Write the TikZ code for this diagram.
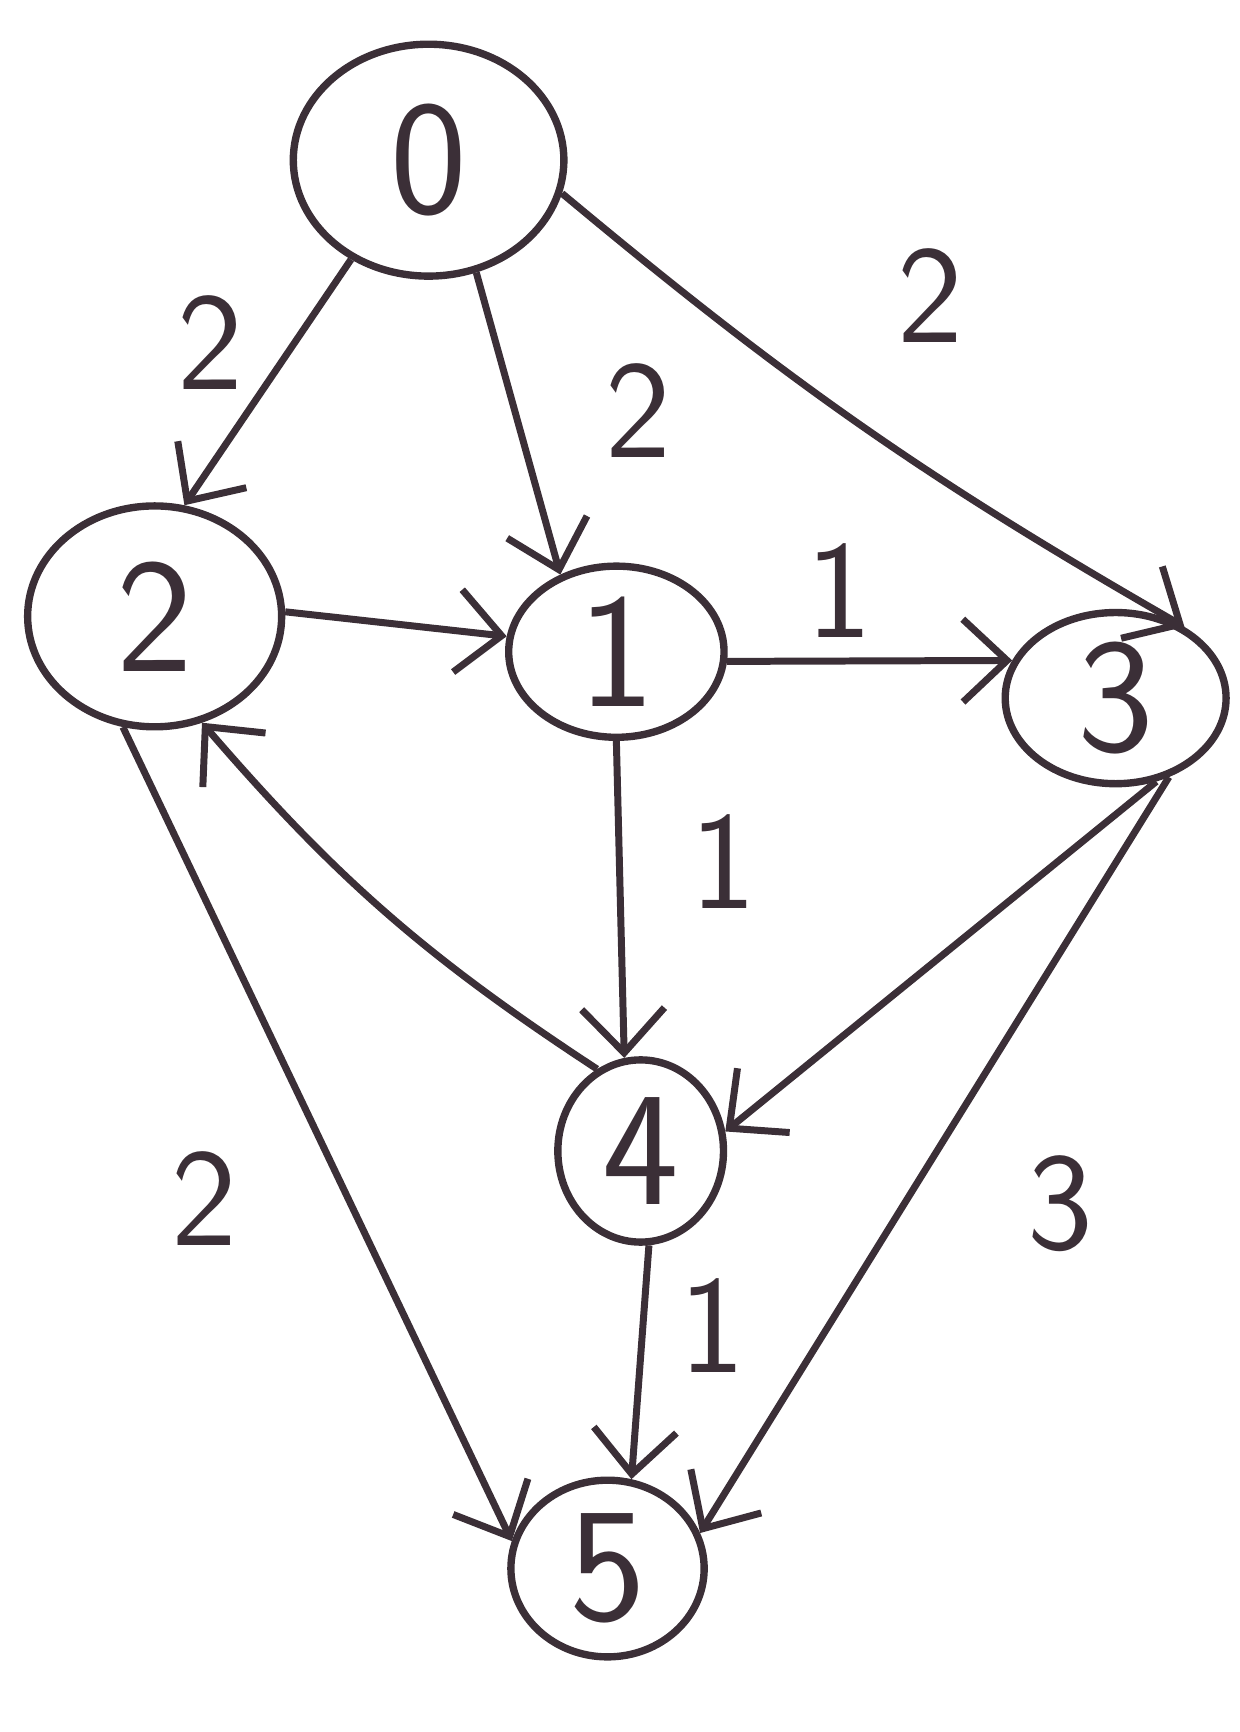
\documentclass[tikz,border=0pt]{standalone}
\usepackage{tikz}
\usetikzlibrary{positioning,shapes.geometric,arrows.meta}
\definecolor{ink}{HTML}{3B2F37}
\tikzset{
  >={Straight Barb[length=8mm,width=15mm]},
  % --- nodes
  vert/.style = {ellipse, draw=ink, line width=3.8pt, inner sep=0pt, text=ink,
                 font=\fontsize{84}{84}\selectfont\sffamily},
  wt/.style   = {text=ink, font=\fontsize{72}{72}\selectfont\sffamily},
  % --- edges
  e/.style    = {->, draw=ink, line width=3.6pt},
}
\begin{document}
\begin{tikzpicture}[x=0.02cm,y=-0.02cm]
  \useasboundingbox (0,0) rectangle (1122,1568);
  \node[vert, minimum width=4.9cm, minimum height=4.2cm] (n0) at (388,145) {0};
  \node[vert, minimum width=4.6cm, minimum height=4.0cm] (n2) at (140,558) {2};
  \node[vert, minimum width=3.9cm, minimum height=3.1cm] (n1) at (558,590) {1};
  \node[vert, minimum width=4.0cm, minimum height=3.1cm] (n3) at (1010,632) {3};
  \node[vert, minimum width=3.0cm, minimum height=3.3cm] (n4) at (580,1042) {4};
  \node[vert, minimum width=3.5cm, minimum height=3.2cm] (n5) at (550,1420) {5};
  % weights
  \node[wt] (w02) at (190,310) {2};
  \node[wt] (w01) at (578,372) {2};
  \node[wt] (w03) at (842,268) {2};
  \node[wt] (w13) at (760,535) {1};
  \node[wt] (w14) at (655,780) {1};
  \node[wt] (w25) at (185,1085) {2};
  \node[wt] (w45) at (645,1200) {1};
  \node[wt] (w35) at (960,1090) {3};
  % edges
  \draw[e] (n0.232) -- (n2.75);
  \draw[e] (n0.-67) -- (n1.126);
  \draw[e] (n0.-14) to[bend right=5] (n3.46);
  \draw[e] (n2.2) -- (n1.172);
  \draw[e] (n1.-5) -- (n3.160);
  \draw[e] (n1.south) -- (n4.100);
  \draw[e] (n3.-64) -- (n4.13);
  \draw[e] (n4.118) to[bend left=8] (n2.-66);
  \draw[e] (n2.-106) -- (n5.164);
  \draw[e] (n4.-85) -- (n5.75);
  \draw[e] (n3.-56) -- (n5.21);
\end{tikzpicture}
\end{document}
